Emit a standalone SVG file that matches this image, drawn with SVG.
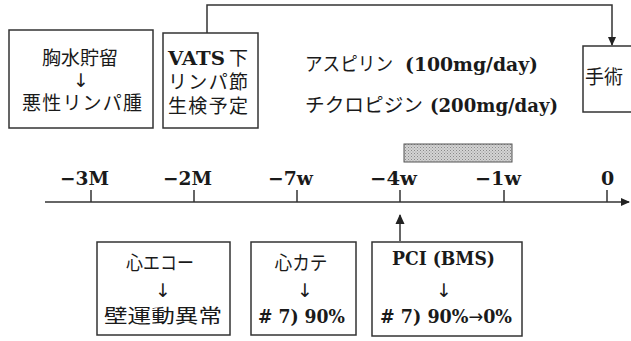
<svg xmlns="http://www.w3.org/2000/svg" width="631" height="341" viewBox="0 0 631 341">
<style>
.box{fill:#fff;stroke:#333;stroke-width:1.5}
.jp{font-family:"Noto Sans CJK JP","Noto Sans",sans-serif;font-size:19px;fill:#1a1a1a}
.lat{font-family:"DejaVu Serif","Liberation Serif",serif;font-weight:bold;font-size:19px;fill:#1a1a1a}
.arr{font-family:"DejaVu Sans","Liberation Sans",sans-serif;font-size:19px;fill:#1a1a1a}
.ln{stroke:#333;stroke-width:1.5;fill:none}
</style>
<defs>
<marker id="ah" markerWidth="10" markerHeight="10" refX="8" refY="5" orient="auto" markerUnits="userSpaceOnUse"><path d="M0,1 L9,5 L0,9 Z" fill="#222"/></marker>
<marker id="ah2" markerWidth="12" markerHeight="12" refX="9" refY="6" orient="auto" markerUnits="userSpaceOnUse"><path d="M0,1.5 L10,6 L0,10.5 Z" fill="#222"/></marker>
<pattern id="dots" width="3" height="3" patternUnits="userSpaceOnUse"><rect width="3" height="3" fill="#d4d4d4"/><rect width="1" height="1" fill="#888"/><rect x="1.5" y="1.5" width="1" height="1" fill="#999"/></pattern>
</defs>

<g id="connectors">
<polyline class="ln" points="207,33 207,5 612,5 612,45" marker-end="url(#ah)"/>
<line class="ln" x1="45" y1="202" x2="629" y2="202" stroke-width="2" marker-end="url(#ah)"/>
<line class="ln" x1="91" y1="190" x2="91" y2="202"/>
<line class="ln" x1="194" y1="190" x2="194" y2="202"/>
<line class="ln" x1="297" y1="190" x2="297" y2="202"/>
<line class="ln" x1="400" y1="190" x2="400" y2="202"/>
<line class="ln" x1="504" y1="190" x2="504" y2="202"/>
<line class="ln" x1="607" y1="190" x2="607" y2="202"/>
<line class="ln" x1="400" y1="241" x2="400" y2="215" stroke-width="2.5" marker-end="url(#ah2)"/>
</g>

<g id="axis-labels">
<text class="lat" x="60" y="185" textLength="49" lengthAdjust="spacingAndGlyphs">−3M</text>
<text class="lat" x="163" y="185" textLength="49" lengthAdjust="spacingAndGlyphs">−2M</text>
<text class="lat" x="268" y="185" textLength="45" lengthAdjust="spacingAndGlyphs">−7w</text>
<text class="lat" x="370" y="185" textLength="47" lengthAdjust="spacingAndGlyphs">−4w</text>
<text class="lat" x="475" y="185" textLength="46" lengthAdjust="spacingAndGlyphs">−1w</text>
<text class="lat" x="601" y="185">0</text>
</g>

<g id="drug-bar">
<rect x="404" y="144" width="108" height="18" fill="url(#dots)" stroke="#555" stroke-width="1"/>
</g>

<g id="box-effusion">
<rect class="box" x="9" y="30" width="144" height="98"/>
<text class="jp" x="80" y="65" text-anchor="middle" textLength="76" lengthAdjust="spacing">胸水貯留</text>
<text class="arr" x="81" y="87" text-anchor="middle">↓</text>
<text class="jp" x="82" y="110" text-anchor="middle" textLength="120" lengthAdjust="spacing">悪性リンパ腫</text>
</g>

<g id="box-vats">
<rect class="box" x="163" y="33" width="95" height="95"/>
<text class="lat" x="168" y="65" textLength="57" lengthAdjust="spacingAndGlyphs">VATS</text>
<text class="jp" x="229" y="65">下</text>
<text class="jp" x="168" y="89" textLength="80" lengthAdjust="spacing">リンパ節</text>
<text class="jp" x="168" y="113" textLength="80" lengthAdjust="spacing">生検予定</text>
</g>

<g id="drugs">
<text class="jp" x="305" y="71" textLength="88" lengthAdjust="spacingAndGlyphs">アスピリン</text>
<text class="lat" x="405" y="71" textLength="133" lengthAdjust="spacingAndGlyphs">(100mg/day)</text>
<text class="jp" x="305" y="112" textLength="118" lengthAdjust="spacingAndGlyphs">チクロピジン</text>
<text class="lat" x="430" y="112" textLength="128" lengthAdjust="spacingAndGlyphs">(200mg/day)</text>
</g>

<g id="box-surgery">
<rect class="box" x="583" y="46" width="60" height="66"/>
<text class="jp" x="585" y="84" textLength="38" lengthAdjust="spacing">手術</text>
</g>

<g id="box-echo">
<rect class="box" x="97" y="242" width="133" height="93"/>
<text class="jp" x="160" y="270" text-anchor="middle" textLength="68" lengthAdjust="spacingAndGlyphs">心エコー</text>
<text class="arr" x="163" y="297" text-anchor="middle">↓</text>
<text class="jp" x="163" y="323" text-anchor="middle" textLength="118" lengthAdjust="spacingAndGlyphs" font-size="21">壁運動異常</text>
</g>

<g id="box-cath">
<rect class="box" x="251" y="242" width="105" height="93"/>
<text class="jp" x="301" y="270" text-anchor="middle" textLength="53" lengthAdjust="spacingAndGlyphs">心カテ</text>
<text class="arr" x="305" y="297" text-anchor="middle">↓</text>
<text class="lat" x="258" y="323" textLength="87" lengthAdjust="spacingAndGlyphs"># 7) 90%</text>
</g>

<g id="box-pci">
<rect class="box" x="372" y="242" width="150" height="94"/>
<text class="lat" x="392" y="265" textLength="103" lengthAdjust="spacingAndGlyphs">PCI (BMS)</text>
<text class="arr" x="444" y="297" text-anchor="middle">↓</text>
<text class="lat" x="380" y="323" textLength="132" lengthAdjust="spacingAndGlyphs"># 7) 90%<tspan font-weight="normal" font-family="DejaVu Sans, sans-serif">→</tspan>0%</text>
</g>
</svg>
